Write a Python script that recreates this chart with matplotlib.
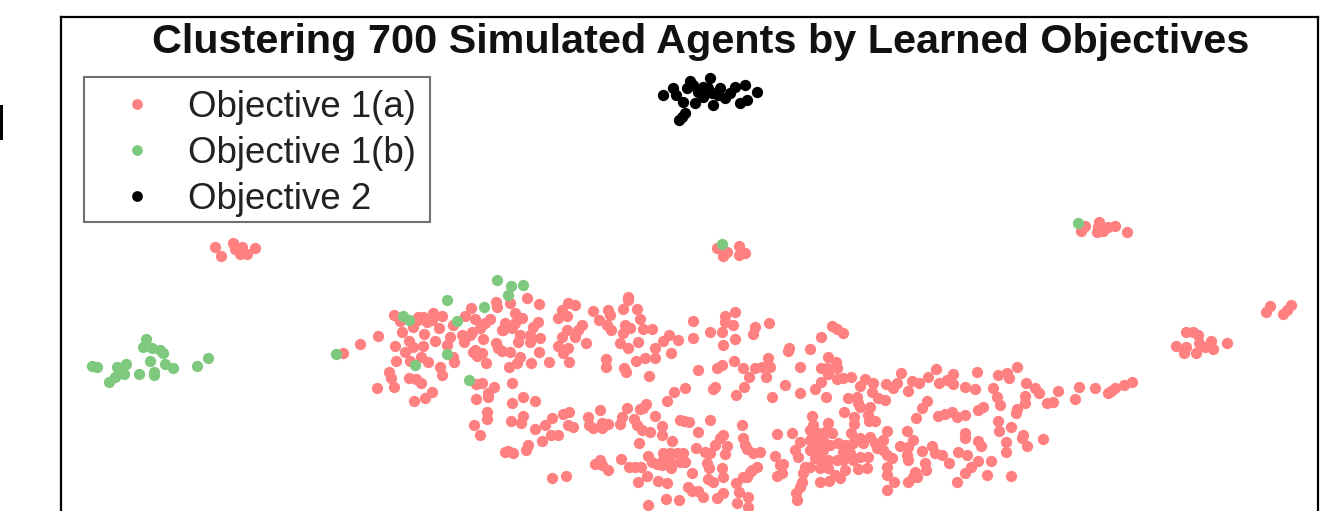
import numpy as np
import matplotlib
matplotlib.use('Agg')
import matplotlib.pyplot as plt
from matplotlib.patches import Rectangle

plt.rcParams['font.family'] = ['Liberation Sans', 'DejaVu Sans']

title = 'Clustering 700 Simulated Agents by Learned Objectives'
labels = ['Objective 1(a)', 'Objective 1(b)', 'Objective 2']
colors = ['#ff8080', '#7fc97f', '#000000']

red_west_origin = (60, 260)
red_west = [(848,278),(900,253),(955,227),(1003,164),(1020,183),(1027,217),(1048,243),(1005,259),(1060,262),
    (1088,258),(1035,275),(1125,242),(1008,302),(1050,302),(1082,292),(1105,307),(1140,320),(1180,290),(1182,307),
    (1145,344),(988,337),(993,353),(1001,382),(950,385),(1047,353),(1068,358),(1082,370),(1115,396),(1095,413),
    (1062,424),(1160,255),(1170,232),(1138,205),(1092,222),(1060,200),(1075,180),(1090,170),(1120,160),(1145,168),
    (1100,185),(1115,180),(1075,170),(1180,195)]

red_mid_origin = (460, 280)
red_mid = [(505,50),(503,60),(200,55),(237,71),(108,65),(110,80),(150,70),(32,85),(45,117),(15,108),(90,118),(75,130),
    (60,143),(35,155),(30,165),(12,185),(70,177),(5,165),(165,100),(185,115),(135,130),(125,150),(165,130),(180,165),
    (175,185),(150,215),(125,212),(108,190),(115,205),(130,150),(155,145),(235,125),(220,140),(210,165),(240,175),
    (210,185),(237,217),(267,245),(212,250),(180,230),(170,250),(148,260),(78,250),(45,210),(65,218),(50,228),(40,215),
    (325,70),(345,75),(305,90),(295,113),(320,108),(320,150),(305,170),(295,197),(325,205),(310,220),(327,245),(365,135),
    (355,150),(345,170),(378,190),(398,92),(445,90),(450,105),(418,120),(440,135),(452,150),(490,88),(532,88),(540,117),
    (495,135),(510,145),(490,158),(550,147),(575,147),(480,190),(505,205),(535,185),(610,183),(628,165),(653,180),
    (585,205),(633,220),(585,235),(555,235),(528,243),(437,237),(437,260),(492,263),(498,277),(568,288),(700,123),
    (700,175),(750,157),(785,157),(795,108),(825,97),(795,125),(820,135),(825,178),(790,195),(885,140),(880,162),
    (928,128),(823,242),(848,263),(785,255),(772,265),(713,271),(925,233),(930,260),(905,262),(885,265),(868,292),
    (918,292),(852,320),(765,320),(760,327),(828,345),(937,350),(675,325),(643,335),(622,363),(48,312),(65,310),
    (103,322),(85,340),(85,352),(48,357),(157,310),(190,350),(157,370),(224,363),(80,395),(80,417),(42,436),(60,465),
    (152,424),(188,407),(183,428),(225,447),(255,435),(277,415),(245,482),(272,466),(295,465),(205,495),(197,510),
    (135,517),(160,520),(145,512),(310,402),(328,395),(325,435),(340,442),(385,410),(388,435),(400,445),(420,390),
    (425,430),(425,445),(445,433),(480,433),(485,410),(502,385),(540,387),(558,372),(550,385),(585,408),(523,418),
    (530,435),(545,450),(570,456),(605,438),(605,465),(635,484),(538,490),(660,420),(672,423),(687,425),(750,420),
    (713,455),(847,436),(790,465),(780,475),(848,475),(855,495),(860,508),(880,520),(900,515),(950,462),(945,527),
    (960,555),(950,587),(765,495),(800,498),(795,523),(707,505),(735,515),(750,520),(740,550),(748,565),(787,565),
    (790,590),(745,597),(760,605),(697,578),(565,527),(575,545),(590,553),(610,520),(630,520),(650,520),(670,520),
    (610,540),(630,545),(660,545),(675,545),(632,565),(605,555),(420,540),(405,553),(425,555),(445,570),(483,537),
    (507,562),(525,560),(543,560),(562,588),(535,607),(595,603),(620,610),(277,595),(318,588),(685,620),(695,632),
    (715,632),(730,652),(770,655),(790,638),(828,610),(850,590),(870,575),(890,562),(860,590),(875,570),(838,637),
    (865,650),(830,668),(865,680),(563,675),(617,658),(657,660)]

red_east_origin = (760, 300)
red_east = [(88,145),(85,152),(149,146),(182,110),(215,78),(232,87),(250,98),(75,256),(119,200),(119,278),(203,172),
    (228,185),(183,203),(200,205),(230,205),(205,222),(232,237),(250,235),(273,232),(183,247),(165,268),(199,291),
    (315,237),(340,250),(300,258),(335,275),(265,293),(290,290),(295,310),(300,320),(330,320),(252,335),(283,350),
    (283,372),(325,345),(345,362),(328,362),(155,347),(378,252),(400,265),(410,250),(423,218),(455,243),(478,250),
    (443,272),(505,231),(528,208),(538,250),(560,240),(578,222),(578,253),(615,262),(645,268),(652,215),(715,225),
    (740,220),(747,235),(772,202),(700,265),(710,290),(720,315),(798,250),(795,287),(795,308),(770,328),(768,340),
    (825,265),(838,280),(860,310),(878,307),(893,272),(945,297),(958,262),(355,295),(375,300),(500,302),(485,323),
    (467,353),(535,348),(555,342),(575,337),(590,352),(615,345),(655,330),(668,322),(715,362),(718,392),(753,380),
    (95,398),(70,492),(65,520),(160,375),(205,370),(150,390),(215,400),(175,400),(195,395),(272,400),(330,410),(380,392),
    (300,415),(120,425),(105,450),(115,470),(135,500),(130,520),(125,545),(120,560),(108,578),(112,600),(150,420),
    (170,430),(190,420),(210,435),(235,430),(255,435),(280,430),(310,430),(345,430),(370,420),(150,450),(175,455),
    (190,450),(250,455),(270,460),(300,470),(325,470),(350,445),(370,450),(380,465),(395,475),(165,475),(185,480),
    (205,480),(230,480),(250,480),(280,480),(150,500),(180,505),(205,505),(255,510),(295,508),(320,505),(380,500),
    (380,525),(403,547),(382,570),(180,545),(208,543),(240,533),(225,525),(440,392),(460,420),(420,438),(445,440),
    (445,480),(440,465),(485,452),(515,438),(525,460),(545,465),(568,488),(595,455),(620,465),(615,400),(615,415),
    (655,422),(663,437),(737,427),(738,457),(790,405),(800,437),(785,415),(850,417),(655,484),(632,500),(615,518),
    (693,484),(682,525),(753,528),(590,545),(495,490),(497,510),(465,515),(460,530),(443,547),(470,530)]

red_far_origin = (1040, 200)
red_far = [(165,565),(203,580),(212,573),(225,565),(252,555),(276,547),(123,92),(135,78),(178,65),(175,80),(172,97),
    (190,92),(205,80),(225,78),(262,97),(437,397),(460,395),(475,405),(478,430),(408,438),(437,440),(432,458),(467,458),
    (495,440),(512,422),(518,447),(561,430),(690,318),(677,337),(753,315),(740,330),(728,342)]

red_top_origin = (200, 230)
red_top = [(45,52),(62,78),(98,40),(125,50),(120,72),(140,72),(165,55),(105,58)]

red_peak_origin = (700, 230)
red_peak = [(52,55),(68,78),(80,65),(118,48),(135,68),(118,75)]

green_west_origin = (60, 260)
green_west = [(257,237),(250,260),(275,265),(300,270),(310,278),(270,303),(315,313),(340,325),(281,335),(281,345),
    (236,341),(192,342),(197,313),(172,322),(185,325),(165,352),(146,367),(97,319),(110,322),(411,319),(445,294),
    (827,282),(1161,119),(1028,168),(1048,181),(1192,183),(1160,282),(1066,316),(1226,360)]

green_mid_origin = (460, 280)
green_mid = [(110,0),(153,17),(190,15),(143,45),(72,82)]

green_far_origin = (1040, 200)
green_far = [(113,70)]

green_peak_origin = (700, 230)
green_peak = [(65,42)]

black_origin = (640, 60)
black = [(70,105),(100,85),(108,105),(130,125),(150,62),(140,85),(165,130),(175,95),(190,110),(210,55),(205,85),
    (220,135),(240,85),(235,105),(255,115),(285,80),(270,100),(315,75),(320,120),(300,130),(352,95),(125,172),(118,180),
    (135,160),(160,75),(215,100),(190,80)]


def to_xy(groups):
    pts = [np.array(g) / 3 + np.array(o) for o, g in groups]
    return np.vstack(pts)


red_pts = to_xy([(red_west_origin, red_west), (red_mid_origin, red_mid), (red_east_origin, red_east),
                 (red_far_origin, red_far), (red_top_origin, red_top), (red_peak_origin, red_peak)])
green_pts = to_xy([(green_west_origin, green_west), (green_mid_origin, green_mid),
                   (green_far_origin, green_far), (green_peak_origin, green_peak)])
black_pts = to_xy([(black_origin, black)])

fig = plt.figure(figsize=(13.35, 5.11), dpi=100)
ax = fig.add_axes([61 / 1335, 0, (1318 - 61) / 1335, (511 - 17) / 511])
ax.set_xlim(61, 1318)
ax.set_ylim(511, 17)
ax.set_xticks([])
ax.set_yticks([])
ax.spines['bottom'].set_visible(False)
for side in ['top', 'left', 'right']:
    ax.spines[side].set_linewidth(1.6)

for pts, c, lab in zip([red_pts, green_pts, black_pts], colors, labels):
    ax.scatter(pts[:, 0], pts[:, 1], s=66, color=c, linewidths=0, label=lab)

# legend frame is drawn by hand, the pad of the real one cannot differ per side
leg = ax.legend(loc='upper left', bbox_to_anchor=(107.6 / 1335, 1 - 90 / 511), bbox_transform=fig.transFigure,
                borderaxespad=0, fontsize=26.4, frameon=False, handletextpad=0.59, labelspacing=0.3, borderpad=0,
                handlelength=1.6, scatterpoints=1, scatteryoffsets=[0.52])
for t in leg.get_texts():
    t.set_color('#222222')
for handle in leg.legend_handles:
    handle.set_sizes([60])
ax.add_patch(Rectangle((84 / 1335, 1 - 222 / 511), 346 / 1335, 145 / 511, transform=fig.transFigure, fill=False,
                       edgecolor='#707070', linewidth=1.5, clip_on=False))

fig.text(701 / 1335, 1 - 53 / 511, title, ha='center', va='baseline', fontsize=29.8, fontweight='bold', color='#111111')

# stray bit of a neighbouring panel at the left edge
fig.add_artist(Rectangle((0, 1 - 140 / 511), 3 / 1335, 35 / 511, transform=fig.transFigure, color='black', lw=0))

fig.savefig('out.png', dpi=100)
